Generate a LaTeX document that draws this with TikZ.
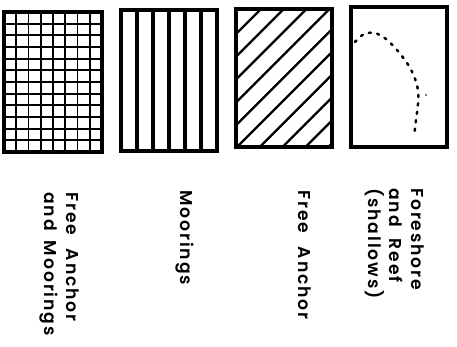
\documentclass[tikz,border=0pt]{standalone}
\usepackage{fontspec}
\setmainfont{Poppins}[BoldFont={* SemiBold}]
\begin{document}
\begin{tikzpicture}[x=1pt,y=-1pt,
  frame/.style={line width=3.8pt, line join=miter},
  gridline/.style={line width=1.9pt},
  barline/.style={line width=3.6pt},
  hatchline/.style={line width=2.3pt},
  dotcurve/.style={line width=2.5pt, line cap=round, dash pattern=on 2.2pt off 6.3pt},
  lab/.style={rotate=-90, anchor=north west, align=left, inner sep=0pt,
    font=\fontsize{17.2}{21.5}\selectfont\bfseries\addfontfeature{LetterSpace=11}}]
\useasboundingbox (0,0) rectangle (457,347);
% box 1: grid
\foreach \i in {1,...,7} \draw[gridline] ({4+\i*12.25},12) -- ({4+\i*12.25},152);
\foreach \j in {1,...,11} \draw[gridline] (4,{12+\j*11.667}) -- (102,{12+\j*11.667});
\draw[frame] (4,12) rectangle (102,152);
% box 2: vertical bars
\foreach \i in {1,...,5} \draw[barline] ({121+\i*16},10) -- ({121+\i*16},151);
\draw[frame] (121,10) rectangle (217,151);
% box 3: hatching
\begin{scope}
  \clip (236,9) rectangle (332,147);
  \foreach \k in {-1,...,9} \draw[hatchline] ({270+\k*22.8-170},170) -- ({270+\k*22.8+10},-10);
\end{scope}
\draw[frame] (236,9) rectangle (332,147);
% box 4: dotted shore line
\draw[dotcurve] plot[smooth] coordinates {(355,42) (364,34) (375,33) (386,39) (397,50) (407,63) (414,76) (418,90) (418,104) (416,120) (414,137)};
\fill (426,95) circle (0.9pt);
\draw[frame] (351,7) rectangle (447,147);
% labels
\node[lab] (l1) at (79,192) {Free\hspace{0.8em}Anchor\\and\hspace{0.6em}Moorings};
\node[lab] (l2) at (194,190) {Moorings};
\node[lab] (l3) at (311,190) {Free\hspace{0.8em}Anchor};
\node[lab] (l4) at (424,188) {Foreshore\\and\hspace{0.7em}Reef\\(shallows)};
\end{tikzpicture}
\end{document}
